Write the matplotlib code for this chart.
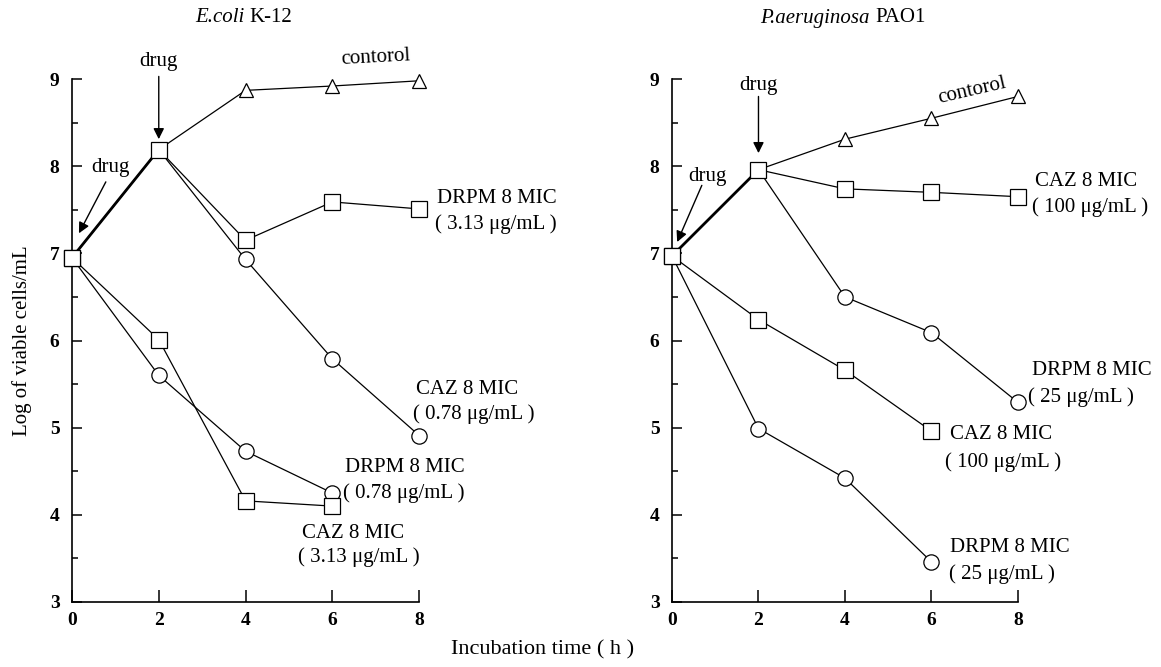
import matplotlib.pyplot as plt

plt.rcParams['font.family'] = ['Liberation Serif', 'DejaVu Serif']

# valores (log de células viáveis/mL)
hours = [0, 2, 4, 6, 8]
hours_short = [0, 2, 4, 6]

ecoli_control = [6.95, 8.19, 8.87, 8.92, 8.98]
ecoli_drpm_313 = [6.95, 8.19, 7.15, 7.59, 7.51]
ecoli_caz_078 = [6.95, 8.19, 6.93, 5.79, 4.91]
ecoli_drpm_078 = [6.95, 5.60, 4.73, 4.25]
ecoli_caz_313 = [6.95, 6.01, 4.16, 4.10]

pa_control = [6.97, 7.96, 8.31, 8.55, 8.80]
pa_caz_100_late = [6.97, 7.96, 7.74, 7.70, 7.65]
pa_drpm_25_late = [6.97, 7.96, 6.50, 6.09, 5.29]
pa_caz_100 = [6.97, 6.24, 5.66, 4.96]
pa_drpm_25 = [6.97, 4.99, 4.42, 3.46]

x_ticks = [0, 2, 4, 6, 8]
y_ticks = [3, 4, 5, 6, 7, 8, 9]

LBL = 15
TICK = 14

fig = plt.figure(figsize=(11.61, 6.67), dpi=100)
ax1 = fig.add_axes([0.062, 0.0975, 0.299, 0.784])
ax2 = fig.add_axes([0.5788, 0.0975, 0.298, 0.784])


def serie(ax, x, y, marker, ms, z):
    ax.plot(x, y, color='k', lw=0.9, zorder=2, clip_on=False)
    ax.plot(x, y, ls='none', marker=marker, ms=ms, mfc='white',
            mec='k', mew=0.9, zorder=z, clip_on=False)


def estilo(ax):
    ax.set_xlim(0, 8)
    ax.set_ylim(3, 9)
    ax.spines['top'].set_visible(False)
    ax.spines['right'].set_visible(False)
    ax.spines['left'].set_linewidth(1.2)
    ax.spines['bottom'].set_linewidth(1.2)
    ax.set_xticks(x_ticks)
    ax.set_yticks(y_ticks)
    ax.set_yticks([v + 0.5 for v in y_ticks[:-1]], minor=True)
    ax.tick_params(axis='x', direction='in', length=9, width=1.1, pad=7)
    ax.tick_params(axis='y', direction='in', length=7.5, width=1.1, pad=9)
    ax.tick_params(axis='y', which='minor', direction='in', length=4.5, width=1.1)
    for lb in ax.get_xticklabels() + ax.get_yticklabels():
        lb.set_fontsize(TICK)
        lb.set_fontweight('bold')


def seta(ax, xy, xytext):
    ax.annotate('', xy=xy, xytext=xytext,
                arrowprops=dict(arrowstyle='-|>', color='k', lw=1,
                                mutation_scale=16, shrinkA=0, shrinkB=0))


def titulo(x, italico, resto):
    # nome da espécie em itálico, cepa em texto normal logo em seguida
    t = fig.text(x, 1 - 18 / 667, italico, fontsize=15, style='italic',
                 ha='left', va='center')
    plt.annotate(resto, xy=(1, 0.5), xycoords=t, xytext=(4, 0),
                 textcoords='offset points', fontsize=15, va='center')


# E. coli
serie(ax1, hours, ecoli_control, '^', 10.5, 3)
serie(ax1, hours, ecoli_caz_078, 'o', 11, 4)
serie(ax1, hours_short, ecoli_drpm_078, 'o', 11, 4)
serie(ax1, hours, ecoli_drpm_313, 's', 11, 5)
serie(ax1, hours_short, ecoli_caz_313, 's', 11, 5)
ax1.plot(hours[:2], ecoli_control[:2], color='k', lw=2, zorder=2)
estilo(ax1)

ax1.text(2, 9.2, 'drug', fontsize=LBL, ha='center', va='center')
seta(ax1, (2, 8.31), (2, 9.03))
ax1.text(0.88, 7.98, 'drug', fontsize=LBL, ha='center', va='center')
seta(ax1, (0.16, 7.23), (0.78, 7.82))
ax1.text(7.0, 9.25, 'contorol', fontsize=LBL, ha='center', va='center', rotation=3)
ax1.text(8.41, 7.63, 'DRPM 8 MIC', fontsize=LBL, va='center')
ax1.text(8.37, 7.34, '( 3.13 μg/mL )', fontsize=LBL, va='center')
ax1.text(7.93, 5.44, 'CAZ 8 MIC', fontsize=LBL, va='center')
ax1.text(7.86, 5.15, '( 0.78 μg/mL )', fontsize=LBL, va='center')
ax1.text(6.29, 4.54, 'DRPM 8 MIC', fontsize=LBL, va='center')
ax1.text(6.25, 4.25, '( 0.78 μg/mL )', fontsize=LBL, va='center')
ax1.text(5.30, 3.79, 'CAZ 8 MIC', fontsize=LBL, va='center')
ax1.text(5.21, 3.51, '( 3.13 μg/mL )', fontsize=LBL, va='center')
ax1.set_ylabel('Log of viable cells/mL', fontsize=LBL, labelpad=13)

# P. aeruginosa
serie(ax2, hours, pa_control, '^', 10.5, 3)
serie(ax2, hours, pa_drpm_25_late, 'o', 11, 4)
serie(ax2, hours_short, pa_drpm_25, 'o', 11, 4)
serie(ax2, hours, pa_caz_100_late, 's', 11, 5)
serie(ax2, hours_short, pa_caz_100, 's', 11, 5)
ax2.plot(hours[:2], pa_control[:2], color='k', lw=2, zorder=2)
estilo(ax2)

ax2.text(2, 8.93, 'drug', fontsize=LBL, ha='center', va='center')
seta(ax2, (2, 8.15), (2, 8.8))
ax2.text(0.83, 7.88, 'drug', fontsize=LBL, ha='center', va='center')
seta(ax2, (0.12, 7.13), (0.69, 7.78))
ax2.text(6.94, 8.87, 'contorol', fontsize=LBL, ha='center', va='center', rotation=13)
ax2.text(8.39, 7.82, 'CAZ 8 MIC', fontsize=LBL, va='center')
ax2.text(8.32, 7.53, '( 100 μg/mL )', fontsize=LBL, va='center')
ax2.text(8.32, 5.66, 'DRPM 8 MIC', fontsize=LBL, va='center')
ax2.text(8.23, 5.35, '( 25 μg/mL )', fontsize=LBL, va='center')
ax2.text(6.43, 4.92, 'CAZ 8 MIC', fontsize=LBL, va='center')
ax2.text(6.31, 4.61, '( 100 μg/mL )', fontsize=LBL, va='center')
ax2.text(6.43, 3.62, 'DRPM 8 MIC', fontsize=LBL, va='center')
ax2.text(6.40, 3.32, '( 25 μg/mL )', fontsize=LBL, va='center')

# títulos e eixo x comum
titulo(195 / 1161, 'E.coli', 'K-12')
titulo(760 / 1161, 'P.aeruginosa', 'PAO1')
fig.text(543 / 1161, 1 - 650 / 667, 'Incubation time ( h )', fontsize=16,
         ha='center', va='center')

plt.savefig('out.png', dpi=100)
